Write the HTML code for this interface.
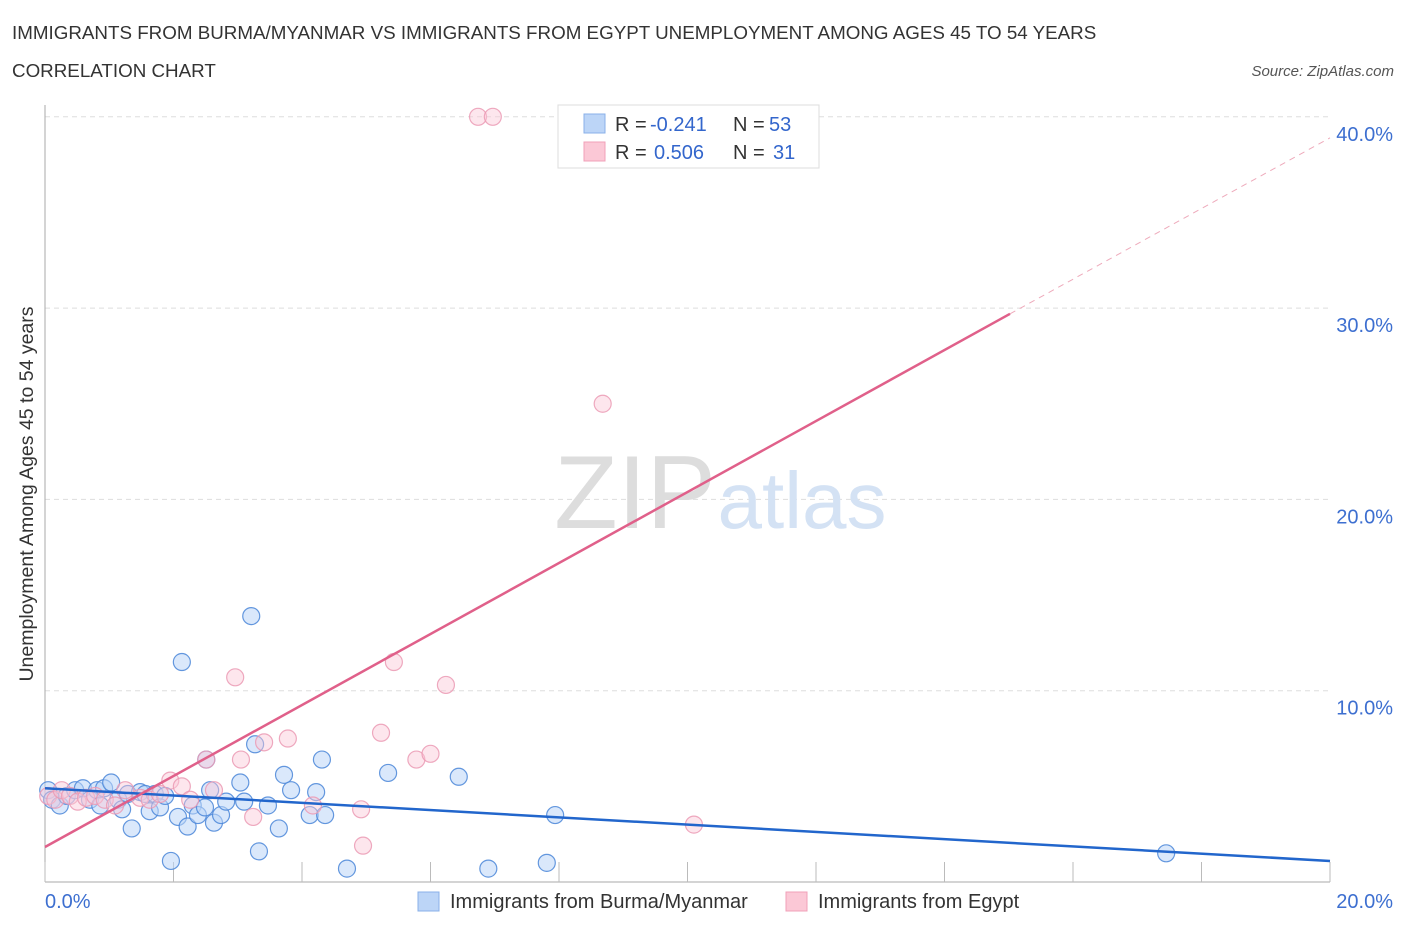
<!DOCTYPE html>
<html><head><meta charset="utf-8"><style>
body{margin:0;background:#fff;font-family:"Liberation Sans",sans-serif}
svg text{font-family:"Liberation Sans",sans-serif}
</style></head><body>
<svg width="1406" height="930" xmlns="http://www.w3.org/2000/svg">
<text x="12" y="39" font-size="18.8" fill="#333">IMMIGRANTS FROM BURMA/MYANMAR VS IMMIGRANTS FROM EGYPT UNEMPLOYMENT AMONG AGES 45 TO 54 YEARS</text>
<text x="12" y="77" font-size="18.8" fill="#333">CORRELATION CHART</text>
<text x="1394" y="76" font-size="15" fill="#555" font-style="italic" text-anchor="end">Source: ZipAtlas.com</text>
<g id="grid"></g>
<text x="635" y="528" font-size="104" fill="#ddd" font-family="Liberation Serif" text-anchor="middle">ZIP</text>
<text x="802" y="528" font-size="80" fill="#d4e2f4" text-anchor="middle">atlas</text>
<g id="axes"></g>
<g id="pts"></g>
<g id="lines"></g>
<text transform="translate(33,494) rotate(-90)" font-size="19.5" fill="#333" text-anchor="middle">Unemployment Among Ages 45 to 54 years</text>
<g>
<rect x="558" y="105" width="261" height="63" fill="#fff" stroke="#ddd"/>
<rect x="584" y="114" width="21" height="19" fill="#bcd5f7" stroke="#8ab0e8"/>
<rect x="584" y="142" width="21" height="19" fill="#fbc8d6" stroke="#f0a0b8"/>
<text x="615" y="131" font-size="20" fill="#333">R =</text>
<text x="650" y="131" font-size="20" fill="#3366cc">-0.241</text>
<text x="733" y="131" font-size="20" fill="#333">N =</text>
<text x="769" y="131" font-size="20" fill="#3366cc">53</text>
<text x="615" y="159" font-size="20" fill="#333">R =</text>
<text x="654" y="159" font-size="20" fill="#3366cc">0.506</text>
<text x="733" y="159" font-size="20" fill="#333">N =</text>
<text x="773" y="159" font-size="20" fill="#3366cc">31</text>
</g>
<g>
<rect x="418" y="892" width="21" height="19" fill="#bcd5f7" stroke="#8ab0e8"/>
<text x="450" y="908" font-size="20" fill="#333">Immigrants from Burma/Myanmar</text>
<rect x="786" y="892" width="21" height="19" fill="#fbc8d6" stroke="#f0a0b8"/>
<text x="818" y="908" font-size="20" fill="#333">Immigrants from Egypt</text>
</g>
</svg>
<script>
const yTicks=[10,20,30,40];
const yTickLabels=["10.0%","20.0%","30.0%","40.0%"];
const xTickLabels=["0.0%","20.0%"];
const blueX=[0.05,0.11,0.23,0.34,0.47,0.59,0.7,0.81,0.92,1.03,1.14,1.2,1.29,1.35,1.48,1.56,1.63,1.71,1.79,1.87,1.96,2.07,2.13,2.22,2.3,2.38,2.49,2.51,2.63,2.74,2.82,3.04,3.1,3.21,3.27,3.33,3.47,3.64,3.72,3.83,4.12,4.22,4.31,4.36,4.7,5.34,6.44,6.9,7.81,7.94,17.45,2.57,0.86];
const blueY=[4.8,4.3,4.0,4.5,4.8,4.9,4.3,4.8,4.9,5.2,4.3,3.8,4.6,2.8,4.7,4.6,3.7,4.6,3.9,4.5,1.1,3.4,11.5,2.9,4.0,3.5,3.9,6.4,3.1,3.5,4.2,5.2,4.2,13.9,7.2,1.6,4.0,2.8,5.6,4.8,3.5,4.7,6.4,3.5,0.7,5.7,5.5,0.7,1.0,3.5,1.5,4.8,4.0];
const pinkX=[0.05,0.16,0.26,0.39,0.51,0.64,0.78,0.93,1.09,1.25,1.48,1.63,1.79,1.95,2.13,2.26,2.51,2.63,2.96,3.05,3.24,3.41,3.78,4.17,4.92,4.95,5.23,5.43,5.78,6.0,6.24];
const pinkY=[4.5,4.3,4.8,4.5,4.2,4.4,4.5,4.3,4.0,4.8,4.4,4.3,4.6,5.3,5.0,4.3,6.4,4.8,10.7,6.4,3.4,7.3,7.5,4.0,3.8,1.9,7.8,11.5,6.4,6.7,10.3];
const pinkX2=[6.74,6.97,8.68,10.1];
const pinkY2=[40,40,25,3.0];
const NS="http://www.w3.org/2000/svg";
const X=v=>45+v*64.25, Y=v=>882-v*19.13;
function mk(t,a,p){const e=document.createElementNS(NS,t);for(const k in a)e.setAttribute(k,a[k]);p.appendChild(e);return e;}
const grid=document.getElementById('grid'),axes=document.getElementById('axes'),pts=document.getElementById('pts'),lines=document.getElementById('lines');
yTicks.forEach((t,i)=>{const l=mk('line',{x1:45,x2:1330,y1:Y(t),y2:Y(t),stroke:'#ddd','stroke-dasharray':'5,4'},grid);


const tx=mk('text',{x:1393,y:Y(t)+24,'font-size':20,fill:'#3d6fd0','text-anchor':'end'},axes);tx.textContent=yTickLabels[i];

});
mk('line',{x1:45,x2:45,y1:105,y2:882,stroke:'#aaa'},axes);
mk('line',{x1:45,x2:1330,y1:882,y2:882,stroke:'#aaa'},axes);
for(let i=0;i<=10;i++){const l=mk('line',{x1:X(i*2),x2:X(i*2),y1:862,y2:882,stroke:'#bbb'},axes);

}
[[0,'start',45],[20,'end',1393]].forEach((d,i)=>{const tx=mk('text',{x:d[2],y:908,'font-size':20,fill:'#3d6fd0','text-anchor':d[1]},axes);tx.textContent=xTickLabels[i];

});
function dot(x,y,f,s,n,o){const c=mk('circle',{cx:X(x),cy:Y(y),r:8.5,fill:f,'fill-opacity':o,stroke:s,'stroke-width':1.2,'stroke-opacity':0.85},pts);

}
blueX.forEach((x,i)=>dot(x,blueY[i],'#bcd5f7','#4a86d8','burma-point',0.55));
pinkX.concat(pinkX2).forEach((x,i)=>dot(x,pinkY.concat(pinkY2)[i],'#fbc8d6','#eb9ab4','egypt-point',0.45));
const b=mk('line',{x1:X(0),y1:Y(4.9),x2:X(20),y2:Y(1.1),stroke:'#2266cc','stroke-width':2.5},lines);


const p=mk('line',{x1:X(0),y1:Y(1.83),x2:X(15.02),y2:Y(29.7),stroke:'#e0608a','stroke-width':2.5},lines);


const pd=mk('line',{x1:X(15.02),y1:Y(29.7),x2:X(20),y2:Y(38.9),stroke:'#eeaabb','stroke-width':1,'stroke-dasharray':'6,5'},lines);


</script>
</body></html>
